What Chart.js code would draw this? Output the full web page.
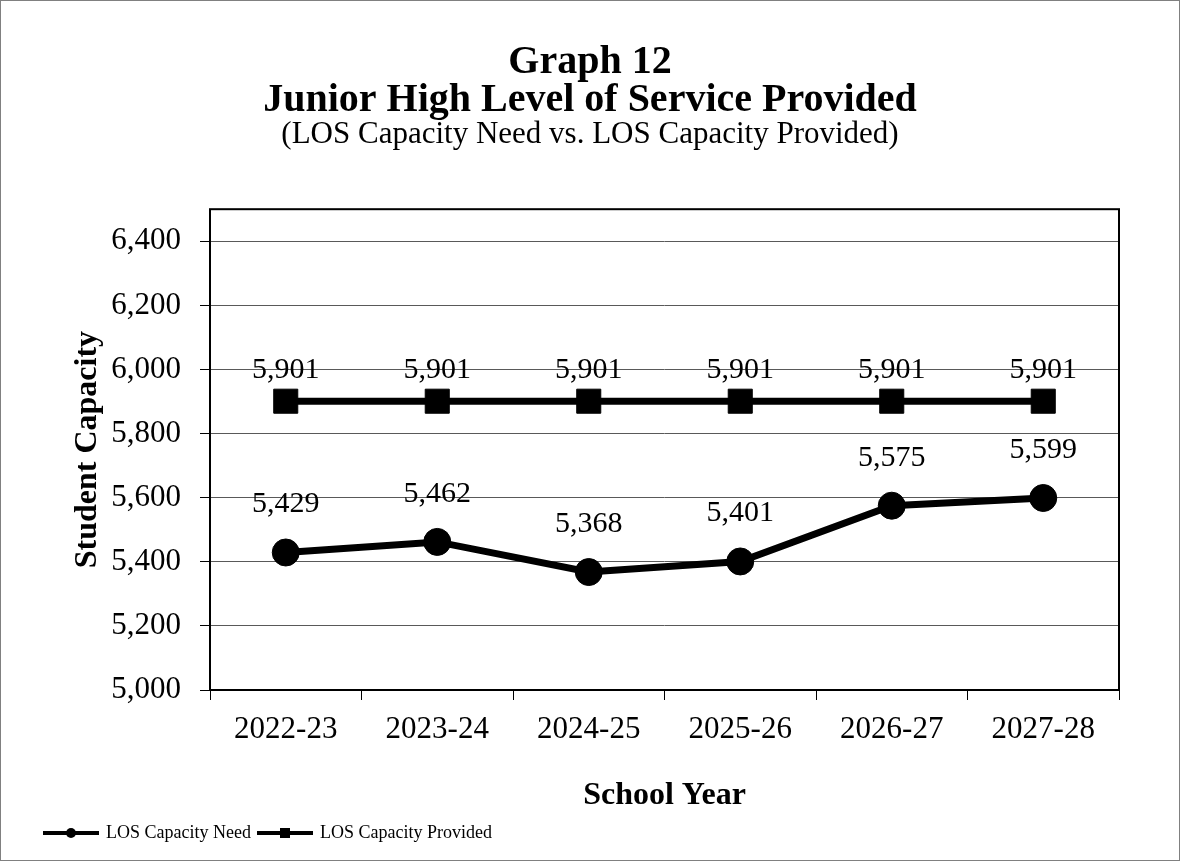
<!DOCTYPE html>
<html>
<head>
<meta charset="utf-8">
<title>Graph 12</title>
<script src="https://cdn.jsdelivr.net/npm/chart.js@4/dist/chart.umd.min.js"></script>
<style>
  html, body { margin: 0; padding: 0; background: #fff; }
  #wrap { width: 1180px; height: 861px; box-sizing: border-box; border: 1px solid #808080; }
  canvas { display: block; }
</style>
</head>
<body>
<div id="wrap"><canvas id="chart" width="1178" height="859"></canvas></div>
<script>
const schoolYears = ['2022-23', '2023-24', '2024-25', '2025-26', '2026-27', '2027-28'];
const capacityNeed = [5429, 5462, 5368, 5401, 5575, 5599];
const capacityProvided = [5901, 5901, 5901, 5901, 5901, 5901];
const yTicks = [5000, 5200, 5400, 5600, 5800, 6000, 6200, 6400];

const serif = '"Liberation Serif", "Times New Roman", serif';

// small line + marker swatches for the legend
function swatch(kind) {
  const c = document.createElement('canvas');
  c.width = 56; c.height = 14;
  const g = c.getContext('2d');
  g.fillStyle = '#000';
  g.fillRect(0, 5, 56, 4);
  if (kind === 'circle') {
    g.beginPath(); g.arc(28, 7, 5, 0, Math.PI * 2); g.fill();
  } else {
    g.fillRect(23, 2, 10, 10);
  }
  return c;
}

const valueLabels = {
  id: 'valueLabels',
  afterDatasetsDraw(chart) {
    const ctx = chart.ctx;
    ctx.save();
    ctx.font = '30px ' + serif;
    ctx.fillStyle = '#000';
    ctx.textAlign = 'center';
    ctx.textBaseline = 'middle';
    chart.data.datasets.forEach((ds, i) => {
      chart.getDatasetMeta(i).data.forEach((pt, j) => {
        ctx.fillText(ds.data[j].toLocaleString('en-US'), pt.x, pt.y - ds.labelOffset);
      });
    });
    ctx.restore();
  }
};

const plotFrame = {
  id: 'plotFrame',
  beforeDatasetsDraw(chart) {
    const a = chart.chartArea;
    const ctx = chart.ctx;
    ctx.save();
    ctx.strokeStyle = '#000';
    ctx.lineWidth = 2;
    ctx.strokeRect(a.left, a.top, a.right - a.left, a.bottom - a.top);
    ctx.restore();
  }
};

new Chart(document.getElementById('chart'), {
  type: 'line',
  data: {
    labels: schoolYears,
    datasets: [
      {
        label: 'LOS Capacity Need',
        data: capacityNeed,
        borderColor: '#000',
        backgroundColor: '#000',
        borderWidth: 7,
        pointStyle: 'circle',
        pointRadius: 13.5,
        pointBorderWidth: 1,
        tension: 0,
        labelOffset: 48
      },
      {
        label: 'LOS Capacity Provided',
        data: capacityProvided,
        borderColor: '#000',
        backgroundColor: '#000',
        borderWidth: 7,
        pointStyle: 'rect',
        pointRadius: 17,
        pointBorderWidth: 1,
        tension: 0,
        labelOffset: 31
      }
    ]
  },
  options: {
    responsive: false,
    animation: false,
    layout: { padding: { top: 0, left: 36, right: 36, bottom: 8 } },
    scales: {
      x: {
        offset: true,
        grid: {
          offset: true,
          drawOnChartArea: false,
          drawTicks: true,
          tickLength: 10,
          tickColor: '#000',
          color: '#000'
        },
        border: { display: false },
        ticks: { color: '#000', padding: 11, maxRotation: 0, font: { family: serif, size: 31 } },
        title: {
          display: true,
          text: 'School Year',
          color: '#000',
          font: { family: serif, size: 32, weight: 'bold' },
          padding: { top: 0, bottom: 1 }
        },
        afterFit(scale) { scale.height = 126; }
      },
      y: {
        min: 5000,
        max: 6500,
        afterBuildTicks(scale) { scale.ticks = yTicks.map(v => ({ value: v })); },
        grid: {
          color: '#595959',
          lineWidth: 1,
          drawTicks: true,
          tickLength: 10,
          tickColor: '#000'
        },
        border: { display: false },
        ticks: {
          color: '#000',
          padding: 19,
          font: { family: serif, size: 31 },
          callback: (v) => v.toLocaleString('en-US')
        },
        title: {
          display: true,
          text: 'Student Capacity',
          color: '#000',
          font: { family: serif, size: 32, weight: 'bold' },
          padding: { top: 32, bottom: 0 }
        },
        afterFit(scale) { scale.width = 173; }
      },
      // empty right-hand axis: keeps the titles centred on the page
      yRight: {
        position: 'right',
        grid: { display: false },
        ticks: { display: false },
        border: { display: false },
        afterFit(scale) { scale.width = 24; }
      }
    },
    plugins: {
      title: {
        display: true,
        text: ['Graph 12', 'Junior High Level of Service Provided'],
        color: '#000',
        font: { family: serif, size: 40, weight: 'bold', lineHeight: 0.94 },
        padding: { top: 43, bottom: 0 }
      },
      subtitle: {
        display: true,
        text: '(LOS Capacity Need vs. LOS Capacity Provided)',
        color: '#000',
        font: { family: serif, size: 31, lineHeight: 1.0 },
        padding: { top: 0, bottom: 59 }
      },
      legend: {
        position: 'bottom',
        align: 'start',
        labels: {
          color: '#000',
          font: { family: serif, size: 18 },
          padding: 8,
          usePointStyle: true,
          pointStyleWidth: 52,
          generateLabels(chart) {
            return chart.data.datasets.map((ds, i) => ({
              text: ds.label,
              pointStyle: swatch(ds.pointStyle === 'rect' ? 'rect' : 'circle'),
              datasetIndex: i,
              fontColor: '#000',
              lineWidth: 0,
              hidden: false
            }));
          }
        }
      },
      tooltip: { enabled: false }
    }
  },
  plugins: [plotFrame, valueLabels]
});
</script>
</body>
</html>
